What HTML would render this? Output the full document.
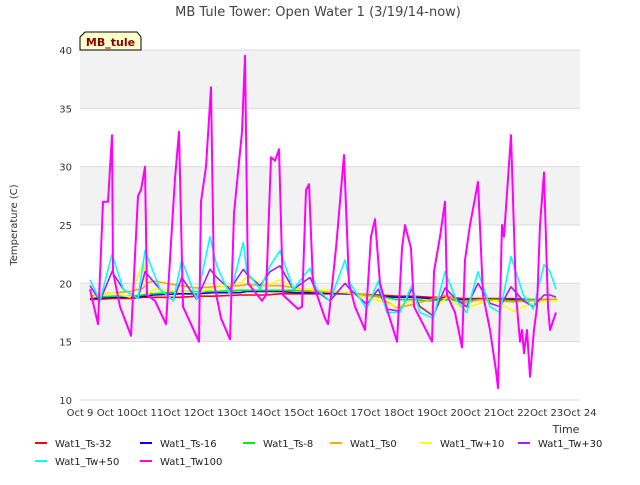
<!DOCTYPE html>
<html><head><meta charset="utf-8"><style>
body{margin:0;background:#fff;font-family:"Liberation Sans","DejaVu Sans",sans-serif}
svg text{font-family:"DejaVu Sans","Liberation Sans",sans-serif}
</style></head><body>
<svg id="chart" width="640" height="480" viewBox="0 0 640 480">
<rect width="640" height="480" fill="#fff"/>
<text x="318" y="16" font-size="13" fill="#444" text-anchor="middle">MB Tule Tower: Open Water 1 (3/19/14-now)</text>
<g id="bands"></g><g id="grid"></g><g id="series"></g><g id="axes"></g>
<text transform="translate(17,225) rotate(-90)" font-size="10" fill="#333" text-anchor="middle">Temperature (C)</text>
<text x="566" y="433" font-size="11" fill="#333" text-anchor="middle">Time</text>
<g>
<path d="M80,50 L80,37 L85,32 L137,32 L141,37 L141,50 Z" fill="#ffffcc" stroke="#000" stroke-width="1"/>
<text x="110.5" y="46" font-size="11" font-weight="bold" fill="#8b0000" text-anchor="middle">MB_tule</text>
</g>
<g id="legend"></g>
</svg>
<script>
const xTicks=["Oct 9","Oct 10","Oct 11","Oct 12","Oct 13","Oct 14","Oct 15","Oct 16","Oct 17","Oct 18","Oct 19","Oct 20","Oct 21","Oct 22","Oct 23","Oct 24"];
const yTicks=[10,15,20,25,30,35,40];
const seriesNames=["Wat1_Ts-32","Wat1_Ts-16","Wat1_Ts-8","Wat1_Ts0","Wat1_Tw+10","Wat1_Tw+30","Wat1_Tw+50","Wat1_Tw100"];
const seriesColors=["#ff0000","#0000ff","#00ee00","#ffa500","#ffff00","#a020f0","#00ffff","#ff00ff"];
const dA=[0.3,0.6,0.96,1.3,1.74,1.95,2.4,2.8,3.05,3.5,3.9,4.1,4.5,4.9,5.0,5.4,5.7,6.0,6.4,6.9,7.1,7.5,7.95,8.1,8.6,8.95,9.2,9.6,9.95,10.2,10.6,10.95,11.3,11.6,11.94,12.3,12.6,12.93,13.3,13.6,13.92,14.1,14.28];
const dB=[0.3,1.0,1.5,1.9,2.0,2.2,3,3.5,4,4.8,5.0,5.6,6,6.5,7,8,9,9.5,10,10.5,11,11.5,12,12.5,13,13.5,14,14.3];
const ts32=[18.6,18.7,18.7,18.8,18.8,18.8,18.8,18.9,18.9,19.0,19.0,19.0,19.1,19.1,19.1,19.1,19.0,18.9,18.9,18.8,18.8,18.7,18.7,18.7,18.7,18.6,18.6,18.6];
const ts16=[18.7,18.8,18.8,18.9,18.9,19.0,19.1,19.1,19.2,19.2,19.3,19.3,19.3,19.2,19.2,19.1,18.9,18.8,18.8,18.7,18.6,18.6,18.6,18.6,18.6,18.6,18.6,18.6];
const ts8=[18.8,18.9,18.9,19.0,19.1,19.1,19.3,19.3,19.3,19.4,19.4,19.4,19.4,19.4,19.3,19.2,18.9,18.6,18.6,18.5,18.6,18.5,18.6,18.6,18.5,18.6,18.6,18.6];
const ts0=[18.9,19.2,19.3,19.6,20,20.2,19.8,19.6,19.7,19.8,19.9,19.8,19.8,19.6,19.3,19.2,18.8,17.9,18.2,18.6,19,18.3,18.6,18.5,18.4,18.5,18.6,18.6];
const tw10=[18.8,19.2,18.8,21.8,19,19.5,19.3,19.2,19.6,20,20.5,19.8,20.3,19.5,19.5,19.2,18.5,18,18.5,17.5,18.8,17.8,18.3,18.5,17.6,18.2,18.5,18.5];
const tw30=[19.8,18.5,21,19.5,18.7,21,19.5,18.5,20.5,18.6,21.2,20.5,19.5,21.2,20.8,19.8,21,21.5,19.5,20.5,19.3,18.5,20,19.5,18.2,19.5,17.8,17.6,19.5,18,17.2,19.6,18.6,18,20,18.3,18,19.7,18.5,18,19,19,18.8];
const tw50=[20.3,18.5,22.5,19.5,18.7,22.8,19.5,18.5,22,18.6,24,21.5,19,23.5,21,19.5,21.5,22.8,19.5,21.3,19.5,18.5,22,20,17.8,20.2,17.5,17.5,19.8,17.5,17,21,18.5,17.5,21,18,17.5,22.3,19,17.8,21.6,21,19.5];
const dC=[0.3,0.54,0.69,0.84,0.96,0.99,1.2,1.53,1.74,1.83,1.95,2.01,2.25,2.58,2.85,2.97,3.09,3.57,3.63,3.78,3.93,4.02,4.23,4.5,4.62,4.86,4.95,5.04,5.46,5.58,5.73,5.85,5.97,6.09,6.54,6.66,6.78,6.87,6.99,7.35,7.44,7.68,7.92,8.07,8.25,8.55,8.73,8.85,9.0,9.24,9.51,9.66,9.75,9.84,9.93,10.02,10.2,10.56,10.62,10.8,10.95,11.01,11.25,11.46,11.55,11.7,11.94,12.09,12.3,12.48,12.54,12.66,12.72,12.93,13.08,13.2,13.26,13.32,13.41,13.5,13.62,13.71,13.8,13.92,14.04,14.1,14.28];
const tw100=[19.5,16.5,27,27,32.7,21,18,15.5,27.5,28,30,19,18.5,16.5,29,33,18,15,27,30,36.8,20,17,15.2,26,33,39.5,20,18.5,19,30.8,30.5,31.5,19,17.8,18,28,28.5,20,17,16.5,23,31,20,18,16,24,25.5,20,17.5,15,23,25,24,23,18,17,15,21,24,27,19,17.5,14.5,22,25,28.7,19,16,12.5,11,25,24,32.7,19,15,16,14,16,12,16,18,25,29.5,18,16,17.5];
const seriesDays=[dB,dB,dB,dB,dB,dA,dA,dC];
const seriesVals=[ts32,ts16,ts8,ts0,tw10,tw30,tw50,tw100];

const NS="http://www.w3.org/2000/svg";
const L=80,R=580,T=50,B=400;
const xs=d=>L+(R-L)*d/15;
const ys=v=>B-(B-T)*(v-10)/30;
function mk(tag,attrs,parent){const e=document.createElementNS(NS,tag);for(const k in attrs)e.setAttribute(k,attrs[k]);parent.appendChild(e);return e;}
const bands=document.getElementById('bands'),grid=document.getElementById('grid'),axes=document.getElementById('axes'),ser=document.getElementById('series'),leg=document.getElementById('legend');
mk('rect',{x:L,y:T,width:R-L,height:B-T,fill:'#fff'},bands);
for(let i=0;i<yTicks.length-1;i++){
 if(i%2===1){const r=mk('rect',{x:L,y:ys(yTicks[i+1]),width:R-L,height:ys(yTicks[i])-ys(yTicks[i+1]),fill:'#f2f2f2'},bands);
 
 }
}
yTicks.forEach(v=>{
 const g=mk('line',{x1:L,x2:R,y1:ys(v),y2:ys(v),stroke:'#dcdcdc','stroke-width':1},grid);
 
 
 const t=mk('text',{x:L-8,y:ys(v)+4,'font-size':10,fill:'#333','text-anchor':'end'},axes);t.textContent=v;
 
 
});
xTicks.forEach((s,i)=>{
 const t=mk('text',{x:xs(i),y:B+16,'font-size':10,fill:'#333','text-anchor':'middle'},axes);t.textContent=s;
 
 
});
seriesVals.forEach((vals,si)=>{
 const days=seriesDays[si];
 const pts=vals.map((v,i)=>xs(days[i]).toFixed(1)+','+ys(v).toFixed(1)).join(' ');
 const p=mk('polyline',{points:pts,fill:'none',stroke:seriesColors[si],'stroke-width':si===7?2:1.6,'stroke-linejoin':'round'},ser);
 
 
});
const lx=[35,140,243,330,420,518,35,140],ly=[443,443,443,443,443,443,461,461];
seriesNames.forEach((n,i)=>{
 const g=mk('g',{},leg);
 
 
 mk('line',{x1:lx[i],x2:lx[i]+12,y1:ly[i],y2:ly[i],stroke:seriesColors[i],'stroke-width':2},g);
 const t=mk('text',{x:lx[i]+20,y:ly[i]+4,'font-size':10,fill:'#222'},g);t.textContent=n;
});
</script>
</body></html>
